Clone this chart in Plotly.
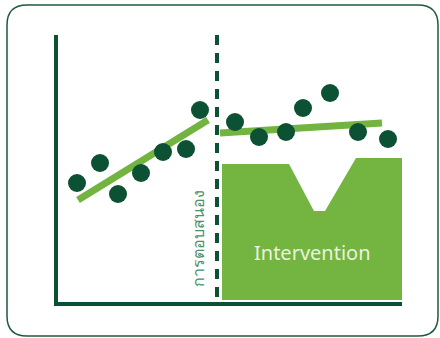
import plotly.graph_objects as go

# data (x = time, y = response, 1 unit = 10 px)
pre_time = [1.9, 4.2, 6.0, 8.3, 10.5, 12.8, 14.2]
pre_value = [11.9, 13.9, 10.8, 12.9, 15.0, 15.3, 19.2]
post_time = [17.7, 20.1, 22.8, 24.5, 27.2, 30.0, 33.0]
post_value = [18.0, 16.5, 17.0, 19.4, 20.9, 17.0, 16.3]

pre_trend_time = [2.0, 15.0]
pre_trend_value = [10.2, 18.2]
post_trend_time = [16.2, 32.4]
post_trend_value = [16.9, 17.9]

cut_time = [15.9, 15.9]
cut_value = [26.7, 0.2]

block_time = [16.4, 16.4, 23.1, 25.6, 26.7, 29.8, 34.4, 34.4, 16.4]
block_value = [0.2, 13.8, 13.8, 9.1, 9.1, 14.4, 14.4, 0.2, 0.2]

DARK = "#0c5133"
LIGHT = "#72b43f"

W, H = 440, 338
L, R, T, B = 58, 38, 35, 36

fig = go.Figure()
fig.add_trace(go.Scatter(x=block_time, y=block_value, mode="lines", fill="toself",
                         fillcolor="#74b541", line=dict(width=0, color="#74b541"),
                         hoverinfo="skip"))
fig.add_trace(go.Scatter(x=cut_time, y=cut_value, mode="lines",
                         line=dict(color=DARK, width=4, dash="10px,8px")))
fig.add_trace(go.Scatter(x=pre_trend_time, y=pre_trend_value, mode="lines",
                         line=dict(color=LIGHT, width=7)))
fig.add_trace(go.Scatter(x=post_trend_time, y=post_trend_value, mode="lines",
                         line=dict(color=LIGHT, width=7)))
fig.add_trace(go.Scatter(x=pre_time + post_time, y=pre_value + post_value, mode="markers",
                         marker=dict(color=DARK, size=18, line=dict(width=0))))

fig.add_annotation(x=25.4, y=5.0, text="Intervention", showarrow=False,
                   font=dict(family="Noto Sans, sans-serif", size=20, color="#e9f2df"))
fig.add_annotation(x=14.0, y=6.3, text="การตอบสนอง", showarrow=False, textangle=-90,
                   font=dict(family="Noto Sans, sans-serif", size=16, color="#4a9068"))

# rounded frame round the whole card, in paper units
pw, ph = W - L - R, H - T - B


def px(x):
    return (x - L) / pw


def py(y):
    return (H - B - y) / ph


x0, x1, y0, y1, r = 7, 438, 5, 336, 20
path = (f"M {px(x0 + r)},{py(y0)} L {px(x1 - r)},{py(y0)} Q {px(x1)},{py(y0)} {px(x1)},{py(y0 + r)} "
        f"L {px(x1)},{py(y1 - r)} Q {px(x1)},{py(y1)} {px(x1 - r)},{py(y1)} "
        f"L {px(x0 + r)},{py(y1)} Q {px(x0)},{py(y1)} {px(x0)},{py(y1 - r)} "
        f"L {px(x0)},{py(y0 + r)} Q {px(x0)},{py(y0)} {px(x0 + r)},{py(y0)} Z")
fig.add_shape(type="path", path=path, xref="paper", yref="paper",
              line=dict(color="#1d5b3c", width=1.5), layer="below")

fig.update_layout(
    width=W, height=H,
    margin=dict(l=L, r=R, t=T, b=B),
    showlegend=False,
    paper_bgcolor="white",
    plot_bgcolor="white",
)
fig.update_xaxes(range=[0, pw / 10], showgrid=False, zeroline=False, showticklabels=False,
                 ticks="", showline=True, linecolor=DARK, linewidth=4)
fig.update_yaxes(range=[0, ph / 10], showgrid=False, zeroline=False, showticklabels=False,
                 ticks="", showline=True, linecolor=DARK, linewidth=4)

# drop the browser's default body margin so the figure sits at the page corner
fig.write_html("out.html", config={"displayModeBar": False},
               post_script="document.body.style.margin = '0';")
